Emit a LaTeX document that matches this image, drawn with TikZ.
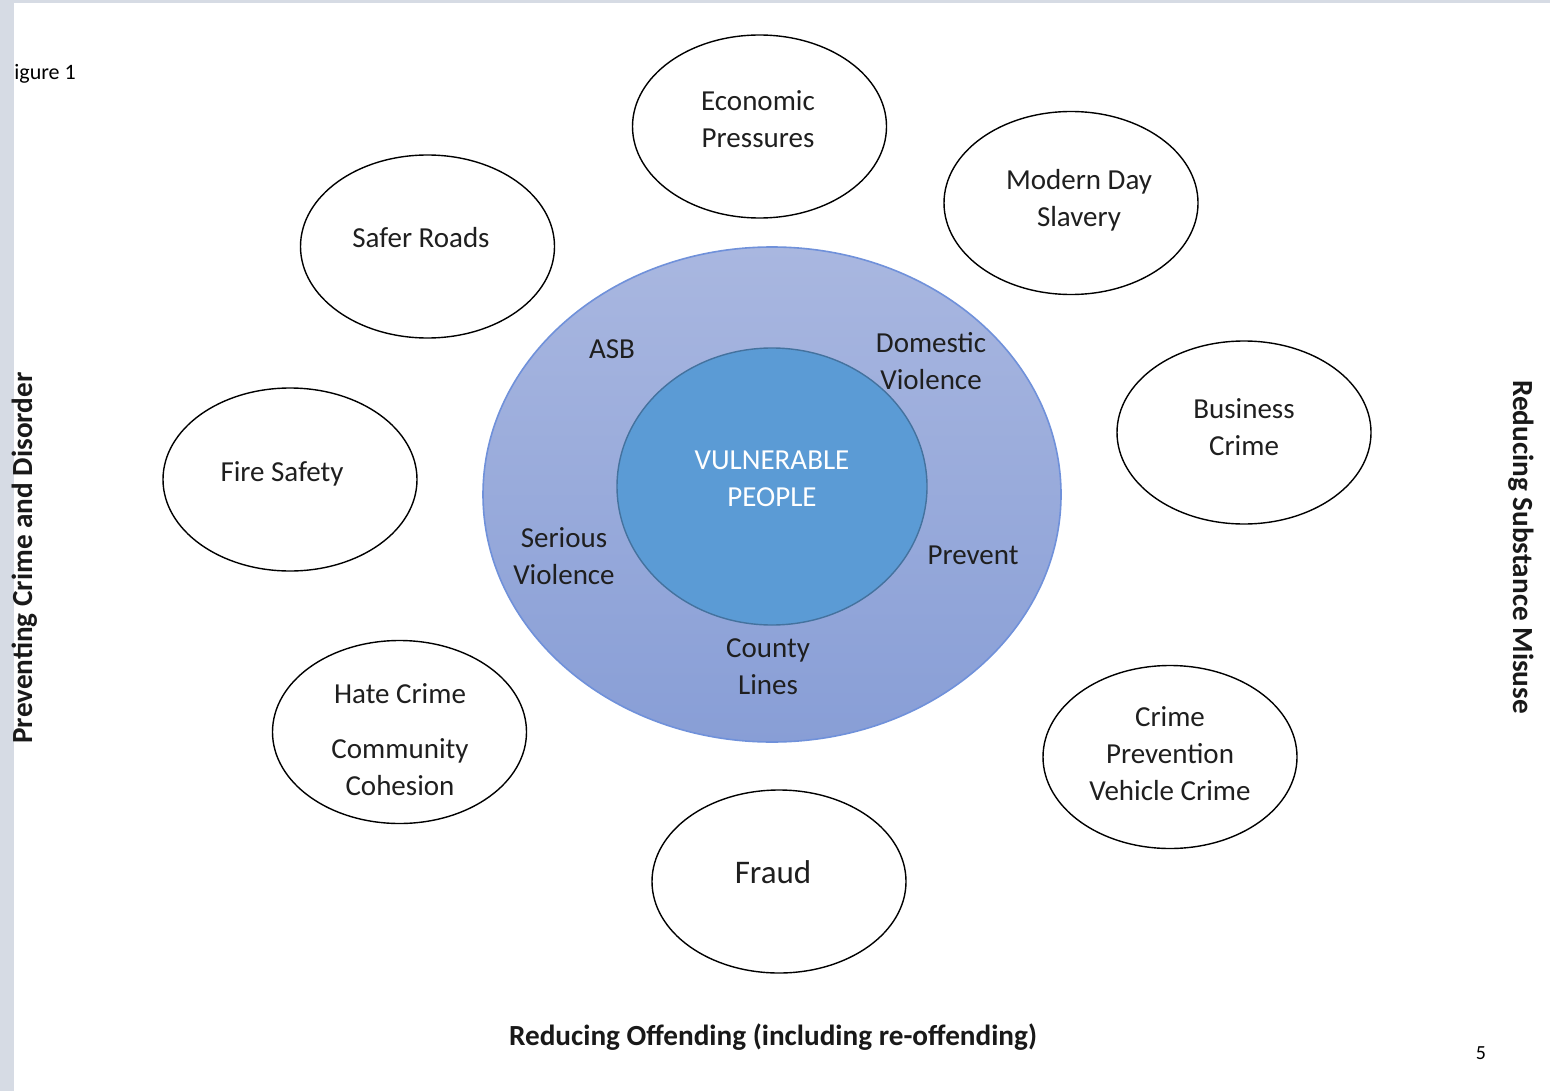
\documentclass[tikz,border=0pt]{standalone}
\usepackage{fontspec}
\setmainfont{Carlito}
\usetikzlibrary{shapes.geometric}
\definecolor{pagegray}{HTML}{D6DBE4}
\definecolor{outertop}{HTML}{A9B7E0}
\definecolor{outerbot}{HTML}{889ED6}
\definecolor{outerline}{HTML}{7091DA}
\definecolor{innerfill}{HTML}{5B9BD5}
\definecolor{innerline}{HTML}{44729E}
\tikzset{
  bub/.style={ellipse, draw=black, line width=0.7pt, fill=white, inner sep=0pt,
    minimum width=127pt, minimum height=91.5pt},
  lbl/.style={align=center, font=\fontsize{14.5pt}{18.5pt}\selectfont, text=black!88, inner sep=0pt},
  side/.style={font=\bfseries\fontsize{14.6pt}{17pt}\selectfont, text=black!90, inner sep=0pt},
}
\begin{document}
\begin{tikzpicture}[x=0.5pt,y=-0.5pt]
\useasboundingbox (0,0) rectangle (1550,1091);
\fill[white] (0,0) rectangle (1550,1091);
\fill[pagegray] (0,0) rectangle (14,1091);
\fill[pagegray] (0,0) rectangle (1550,3);

% central rings
\node[ellipse, draw=outerline, line width=0.8pt, top color=outertop, bottom color=outerbot,
  minimum width=289pt, minimum height=247.5pt, inner sep=0pt] (outer) at (772,494.5) {};
\node[ellipse, draw=innerline, line width=0.7pt, fill=innerfill,
  minimum width=155pt, minimum height=138.5pt, inner sep=0pt] (inner) at (772,486.5) {};
\node[lbl, text=white] (vp) at (772,479) {VULNERABLE\\PEOPLE};

\node[lbl] (asb) at (612,349) {ASB};
\node[lbl] (dv) at (931,361) {Domestic\\Violence};
\node[lbl] (sv) at (564,556) {Serious\\Violence};
\node[lbl] (prev) at (973,555) {Prevent};
\node[lbl] (cl) at (768,667) {County\\Lines};

% surrounding bubbles
\node[bub] (econ) at (759.5,126.5) {};
\node[lbl] (econt) at (758,119) {Economic\\Pressures};
\node[bub] (mds) at (1071,203) {};
\node[lbl] (mdst) at (1079,200.5) {Modern Day\\Slavery};
\node[bub] (safer) at (427.5,246.5) {};
\node[lbl] (safert) at (421,238) {Safer Roads};
\node[bub] (fire) at (290,479.5) {};
\node[lbl] (firet) at (282,474) {Fire Safety};
\node[bub] (bus) at (1244,432.5) {};
\node[lbl] (bust) at (1244,427.5) {Business\\Crime};
\node[bub] (hate) at (399.5,732) {};
\node[lbl] (hatet) at (400,694) {Hate Crime};
\node[lbl] (comm) at (400,767.5) {Community\\Cohesion};
\node[bub] (cp) at (1170,757) {};
\node[lbl] (cpt) at (1170,754) {Crime\\Prevention\\Vehicle Crime};
\node[bub] (fraud) at (779,881.5) {};
\node[lbl, font=\fontsize{16.5pt}{20pt}\selectfont] (fraudt) at (773,872) {Fraud};

% side labels
\node[font=\fontsize{11pt}{13pt}\selectfont, anchor=west, inner sep=0pt] (fig) at (14,74) {igure 1};
\node[side, rotate=90] (left) at (25,558) {Preventing Crime and Disorder};
\node[side, rotate=-90] (right) at (1521,547) {Reducing Substance Misuse};
\node[side] (bottom) at (773,1037) {Reducing Offending (including re-offending)};
\node[font=\fontsize{10pt}{12pt}\selectfont, inner sep=0pt] (pg) at (1481,1053) {5};
\end{tikzpicture}
\end{document}
